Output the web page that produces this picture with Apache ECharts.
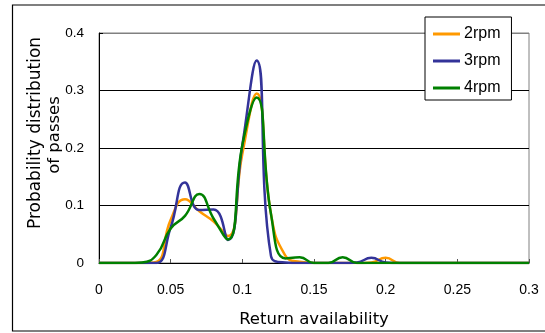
<!DOCTYPE html>
<html><head><meta charset="utf-8">
<script src="https://cdn.jsdelivr.net/npm/echarts@6/dist/echarts.min.js"></script>
<style>html,body{margin:0;padding:0;background:#fff}#c{width:545px;height:333px}</style>
</head><body><div id="c"></div>
<script>
var xValues = [0,0.01,0.02,0.03,0.04,0.05,0.06,0.07,0.08,0.09,0.10,0.11,0.12,0.13,0.14,0.15,0.16,0.17,0.18,0.19,0.20,0.21,0.22,0.23,0.24,0.25,0.26,0.27,0.28,0.29,0.30];
var rpm2 = [0,0,0,0,0.002,0.075,0.111,0.090,0.072,0.047,0.190,0.295,0.085,0.013,0.002,0,0,0,0,0.001,0.009,0,0,0,0,0,0,0,0,0,0];
var rpm3 = [0,0,0,0,0,0.062,0.140,0.092,0.093,0.040,0.205,0.352,0.012,0.001,0,0,0,0,0.001,0.009,0.001,0,0,0,0,0,0,0,0,0,0];
var rpm4 = [0,0,0,0.001,0.014,0.060,0.082,0.120,0.077,0.041,0.205,0.288,0.085,0.008,0.010,0,0,0.010,0,0,0,0,0,0,0,0,0,0,0,0,0];
var seriesNames = ['2rpm','3rpm','4rpm'];
var xTitle = 'Return availability';
var yTitle = ['Probability distribution','of passes'];

function pairs(ys){ return xValues.map(function(x,i){ return [x, ys[i]]; }); }

var chart = echarts.init(document.getElementById('c'), null, {renderer:'canvas'});
var colors = ['#FF9900','#333399','#008000'];
var data = [rpm2, rpm3, rpm4];
chart.setOption({
  backgroundColor:'#fff',
  animation:false,
  grid:{left:99,right:16,top:33,bottom:70,show:true,borderColor:'#808080',borderWidth:1},
  legend:{
    orient:'vertical', left:425, top:17,
    padding:[9,11,4,8], itemGap:11, itemWidth:27, itemHeight:3,
    icon:'rect',
    borderColor:'#000', borderWidth:1, backgroundColor:'#fff',
    textStyle:{fontFamily:'Liberation Sans', fontSize:16, color:'#000', lineHeight:16, padding:[0,0,0,-1]},
    data: seriesNames
  },
  xAxis:{
    type:'value', min:0, max:0.3, interval:0.05,
    axisLine:{lineStyle:{color:'#000',width:1}},
    axisTick:{inside:true,length:4,lineStyle:{color:'#555'}},
    axisLabel:{fontFamily:'Liberation Sans', fontSize:14, color:'#000', margin:20},
    splitLine:{show:false},
    name:xTitle, nameLocation:'middle', nameGap:48,
    nameTextStyle:{fontFamily:'DejaVu Sans', fontSize:16.5, color:'#000'}
  },
  yAxis:{
    type:'value', min:0, max:0.4, interval:0.1,
    axisLine:{show:true,lineStyle:{color:'#000',width:1}},
    axisTick:{show:true,inside:true,length:4,lineStyle:{color:'#000'}},
    axisLabel:{fontFamily:'Liberation Sans', fontSize:13.5, color:'#000', margin:15},
    splitLine:{show:true,lineStyle:{color:['#000','#000','#000','#000','#808080'],width:1}}
  },
  graphic:[
    {type:'rect', shape:{x:12.5,y:5,width:600,height:326}, style:{fill:'none',stroke:'#000',lineWidth:1.2}, silent:true},
    {type:'text', x:35.5, y:133, rotation:Math.PI/2, style:{text:yTitle[0], font:'17px "DejaVu Sans"', fill:'#000', textAlign:'center', textVerticalAlign:'middle'}},
    {type:'text', x:55, y:135, rotation:Math.PI/2, style:{text:yTitle[1], font:'16.5px "DejaVu Sans"', fill:'#000', textAlign:'center', textVerticalAlign:'middle'}}
  ],
  series: seriesNames.map(function(n,i){
    return {name:n, type:'line', smooth:0.5, symbol:'none', data:pairs(data[i]),
      lineStyle:{color:colors[i], width:2.5}, itemStyle:{color:colors[i]}};
  })
});
</script></body></html>
